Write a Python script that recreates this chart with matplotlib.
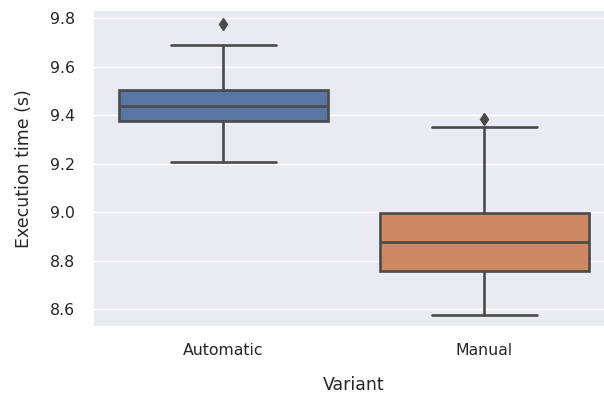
import matplotlib
matplotlib.use("Agg")
import matplotlib.pyplot as plt
import seaborn as sns

sns.set_theme(style="darkgrid")
plt.rcParams["font.family"] = ["DejaVu Sans"]

variants = ["Automatic", "Manual"]
whislo = [9.205, 8.578]
q1 = [9.375, 8.759]
med = [9.437, 8.875]
q3 = [9.502, 8.995]
whishi = [9.690, 9.350]
fliers = [[9.775], [9.383]]
colors = ["#5975a4", "#cc8963"]

stats = []
for i, name in enumerate(variants):
    stats.append(dict(label=name, whislo=whislo[i], q1=q1[i], med=med[i],
                      q3=q3[i], whishi=whishi[i], fliers=fliers[i]))

fig = plt.figure(figsize=(6.04, 3.99), dpi=100)
# axes runs a little past the right edge, like the cropped original
ax = fig.add_axes([0.154, 0.18, 0.864, 0.795])

gray = "#4a4a4a"
lw = 1.9
bp = ax.bxp(stats, positions=[0, 1], widths=0.8, patch_artist=True,
            boxprops=dict(edgecolor=gray, linewidth=lw),
            medianprops=dict(color=gray, linewidth=lw),
            whiskerprops=dict(color=gray, linewidth=lw),
            capprops=dict(color=gray, linewidth=lw),
            flierprops=dict(marker="d", markerfacecolor=gray,
                            markeredgecolor=gray, markersize=6))
for patch, c in zip(bp["boxes"], colors):
    patch.set_facecolor(c)

ax.set_xlim(-0.5, 1.5)
ax.set_ylim(8.526, 9.833)
ax.set_yticks([8.6, 8.8, 9.0, 9.2, 9.4, 9.6, 9.8])
ax.set_xticks([0, 1])
ax.set_xticklabels(variants)
ax.tick_params(axis="y", labelsize=11.3, pad=7)
ax.tick_params(axis="x", labelsize=11.3, pad=5.5)
ax.xaxis.grid(False)
ax.set_xlabel("Variant", fontsize=12.5, labelpad=13)
ax.set_ylabel("Execution time (s)", fontsize=12.5, labelpad=12)

fig.savefig("out.png")
